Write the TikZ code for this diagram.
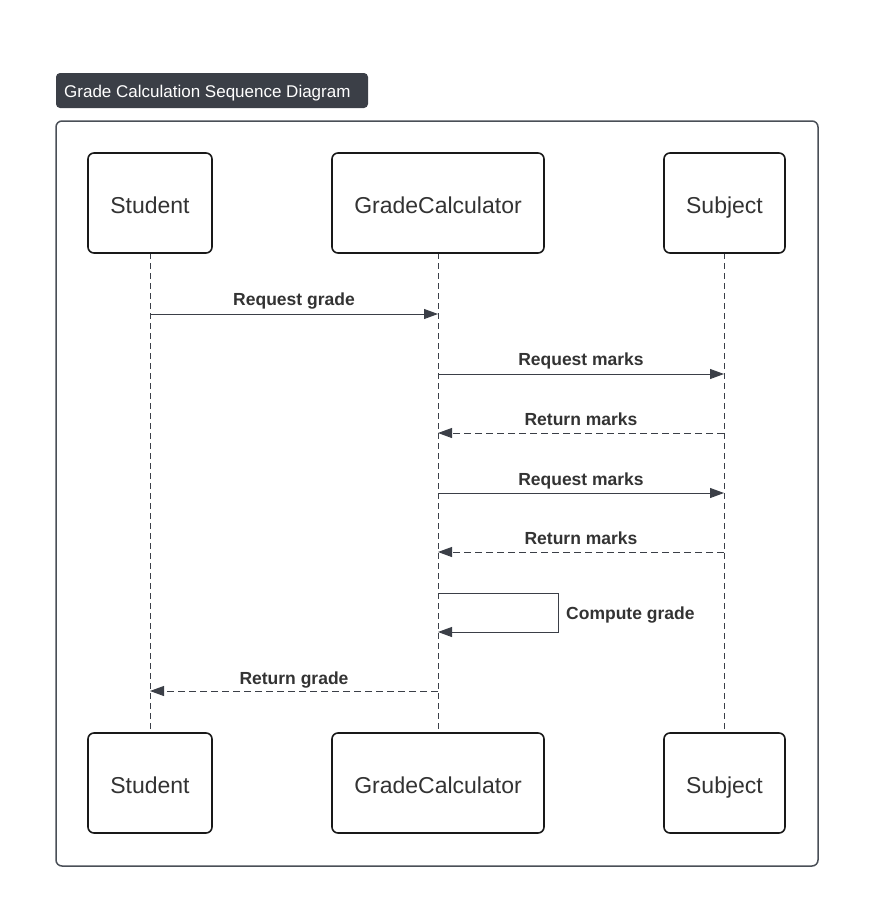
\documentclass[tikz,border=0pt]{standalone}
\usepackage{fontspec}
\setmainfont{Liberation Sans}
\usetikzlibrary{arrows.meta}
\definecolor{slate}{HTML}{3B3F47}
\definecolor{txt}{HTML}{333333}
\definecolor{framec}{HTML}{4A4F57}
\begin{document}
\begin{tikzpicture}[x=1pt,y=-1pt,
  actor/.style={draw=black!90,line width=1.6pt,rounded corners=6pt,fill=white,minimum width=#1,minimum height=100pt,inner sep=0pt,font=\fontsize{23}{26}\selectfont,text=txt,text height=20pt,text depth=0pt},
  life/.style={draw=slate,line width=0.8pt,dash pattern=on 6pt off 4pt},
  msg/.style={draw=slate,line width=0.9pt,-{Triangle[length=14pt,width=10pt]}},
  rmsg/.style={msg,dash pattern=on 7pt off 4pt},
  lbl/.style={font=\bfseries\fontsize{17.5}{20}\selectfont,text=txt,inner sep=0pt,text height=12.5pt,text depth=0pt}]
\useasboundingbox (0,0) rectangle (869,911);
% title
\node[fill=slate,rounded corners=4pt,minimum width=312pt,minimum height=35pt,inner sep=0pt] (title) at (212,90.5) {};
\node[anchor=base west,text=white,font=\fontsize{17}{20}\selectfont,inner sep=0pt] (titletext) at (64,97) {Grade Calculation Sequence Diagram};
% frame
\draw[framec,line width=1.5pt,rounded corners=6pt] (56,121) rectangle (818,866);
% lifelines coordinates
\coordinate (sT) at (150,253); \coordinate (sB) at (150,733);
\coordinate (gT) at (438,253); \coordinate (gB) at (438,733);
\coordinate (uT) at (724,253); \coordinate (uB) at (724,733);
\draw[life] (sT) -- (sB);
\draw[life] (gT) -- (gB);
\draw[life] (uT) -- (uB);
% actors
\node[actor=124pt] (s1) at (150,203) {Student};
\node[actor=212pt] (g1) at (438,203) {GradeCalculator};
\node[actor=121pt] (u1) at (724.5,203) {Subject};
\node[actor=124pt] (s2) at (150,783) {Student};
\node[actor=212pt] (g2) at (438,783) {GradeCalculator};
\node[actor=121pt] (u2) at (724.5,783) {Subject};
% message points
\coordinate (m1a) at (150,314); \coordinate (m1b) at (438,314);
\coordinate (m2a) at (438,374); \coordinate (m2b) at (724,374);
\coordinate (m3a) at (724,433); \coordinate (m3b) at (438,433);
\coordinate (m4a) at (438,493); \coordinate (m4b) at (724,493);
\coordinate (m5a) at (724,552); \coordinate (m5b) at (438,552);
\coordinate (m6a) at (438,593); \coordinate (m6b) at (438,632);
\coordinate (m7a) at (438,691); \coordinate (m7b) at (150,691);
\draw[msg] (m1a) -- (m1b);
\node[lbl] (l1) at (294,299) {Request grade};
\draw[msg] (m2a) -- (m2b);
\node[lbl] (l2) at (581,359) {Request marks};
\draw[rmsg] (m3a) -- (m3b);
\node[lbl] (l3) at (581,419) {Return marks};
\draw[msg] (m4a) -- (m4b);
\node[lbl] (l4) at (581,479) {Request marks};
\draw[rmsg] (m5a) -- (m5b);
\node[lbl] (l5) at (581,538) {Return marks};
\draw[msg] (m6a) -- (558,593) -- (558,632) -- (m6b);
\node[lbl,anchor=west] (l6) at (566,613) {Compute grade};
\draw[rmsg] (m7a) -- (m7b);
\node[lbl] (l7) at (294,678) {Return grade};
\end{tikzpicture}
\end{document}
